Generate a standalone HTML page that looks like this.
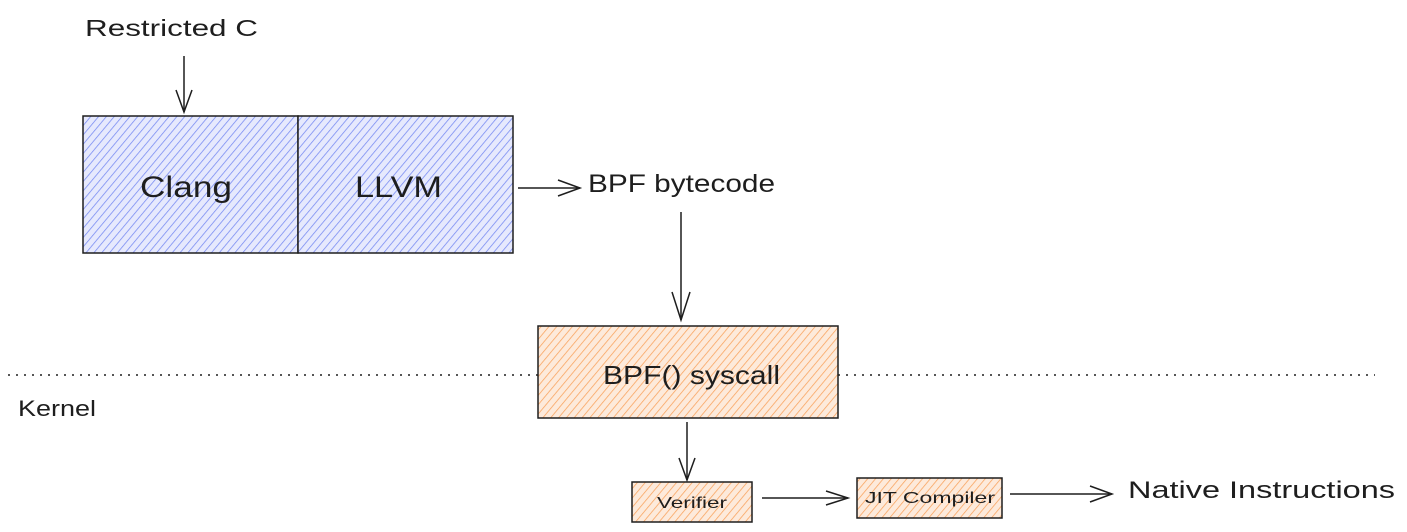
<!DOCTYPE html>
<html><head><style>
html,body{margin:0;padding:0;background:#fff;width:1407px;height:532px;overflow:hidden}
text{font-family:"Liberation Sans",sans-serif;fill:#1e1e1e}
</style></head><body>
<svg width="1407" height="532" viewBox="0 0 1407 532" xmlns="http://www.w3.org/2000/svg">
<defs>
<pattern id="hb" width="6" height="6" patternUnits="userSpaceOnUse" patternTransform="rotate(40)">
<rect width="6" height="6" fill="#e6e9fd"/>
<line x1="0" y1="0" x2="0" y2="6" stroke="#7488f2" stroke-width="1.5"/>
</pattern>
<pattern id="ho" width="6" height="6" patternUnits="userSpaceOnUse" patternTransform="rotate(40)">
<rect width="6" height="6" fill="#fdeadb"/>
<line x1="0" y1="0" x2="0" y2="6" stroke="#f9a15a" stroke-width="1.5"/>
</pattern>
</defs>
<g stroke="#1e1e1e" stroke-width="1.5" fill="none">
<rect x="83" y="116" width="215" height="137" fill="url(#hb)"/>
<rect x="298" y="116" width="215" height="137" fill="url(#hb)"/>
<rect x="538" y="326" width="300" height="92" fill="url(#ho)"/>
<rect x="632" y="482" width="120" height="40" fill="url(#ho)"/>
<rect x="857" y="478" width="145" height="40" fill="url(#ho)"/>
<line x1="184" y1="56" x2="184" y2="112"/><polyline points="176,90 184,112 192,90"/>
<line x1="518" y1="188" x2="580" y2="188"/><polyline points="558,180 580,188 558,196"/>
<line x1="681" y1="212" x2="681" y2="320"/><polyline points="672,292 681,320 690,292"/>
<line x1="687" y1="422" x2="687" y2="480"/><polyline points="679,458 687,480 695,458"/>
<line x1="762" y1="498" x2="848" y2="498"/><polyline points="826,491 848,498 826,505"/>
<line x1="1010" y1="494" x2="1112" y2="494"/><polyline points="1090,486 1112,494 1090,502"/>
<line x1="8" y1="375" x2="538" y2="375" stroke-dasharray="2,6"/>
<line x1="838" y1="375" x2="1375" y2="375" stroke-dasharray="2,6"/>
</g>
<text x="85" y="36" font-size="23" textLength="173" lengthAdjust="spacingAndGlyphs">Restricted C</text>
<text x="140" y="197" font-size="30" textLength="92" lengthAdjust="spacingAndGlyphs">Clang</text>
<text x="355" y="197" font-size="30" textLength="87" lengthAdjust="spacingAndGlyphs">LLVM</text>
<text x="588" y="192" font-size="25" textLength="187" lengthAdjust="spacingAndGlyphs">BPF bytecode</text>
<text x="603" y="384" font-size="26" textLength="177" lengthAdjust="spacingAndGlyphs">BPF() syscall</text>
<text x="18" y="416" font-size="22" textLength="78" lengthAdjust="spacingAndGlyphs">Kernel</text>
<text x="657" y="508" font-size="16" textLength="70" lengthAdjust="spacingAndGlyphs">Verifier</text>
<text x="865" y="503" font-size="16" textLength="130" lengthAdjust="spacingAndGlyphs">JIT Compiler</text>
<text x="1128" y="498" font-size="24" textLength="267" lengthAdjust="spacingAndGlyphs">Native Instructions</text>
</svg>
</body></html>
